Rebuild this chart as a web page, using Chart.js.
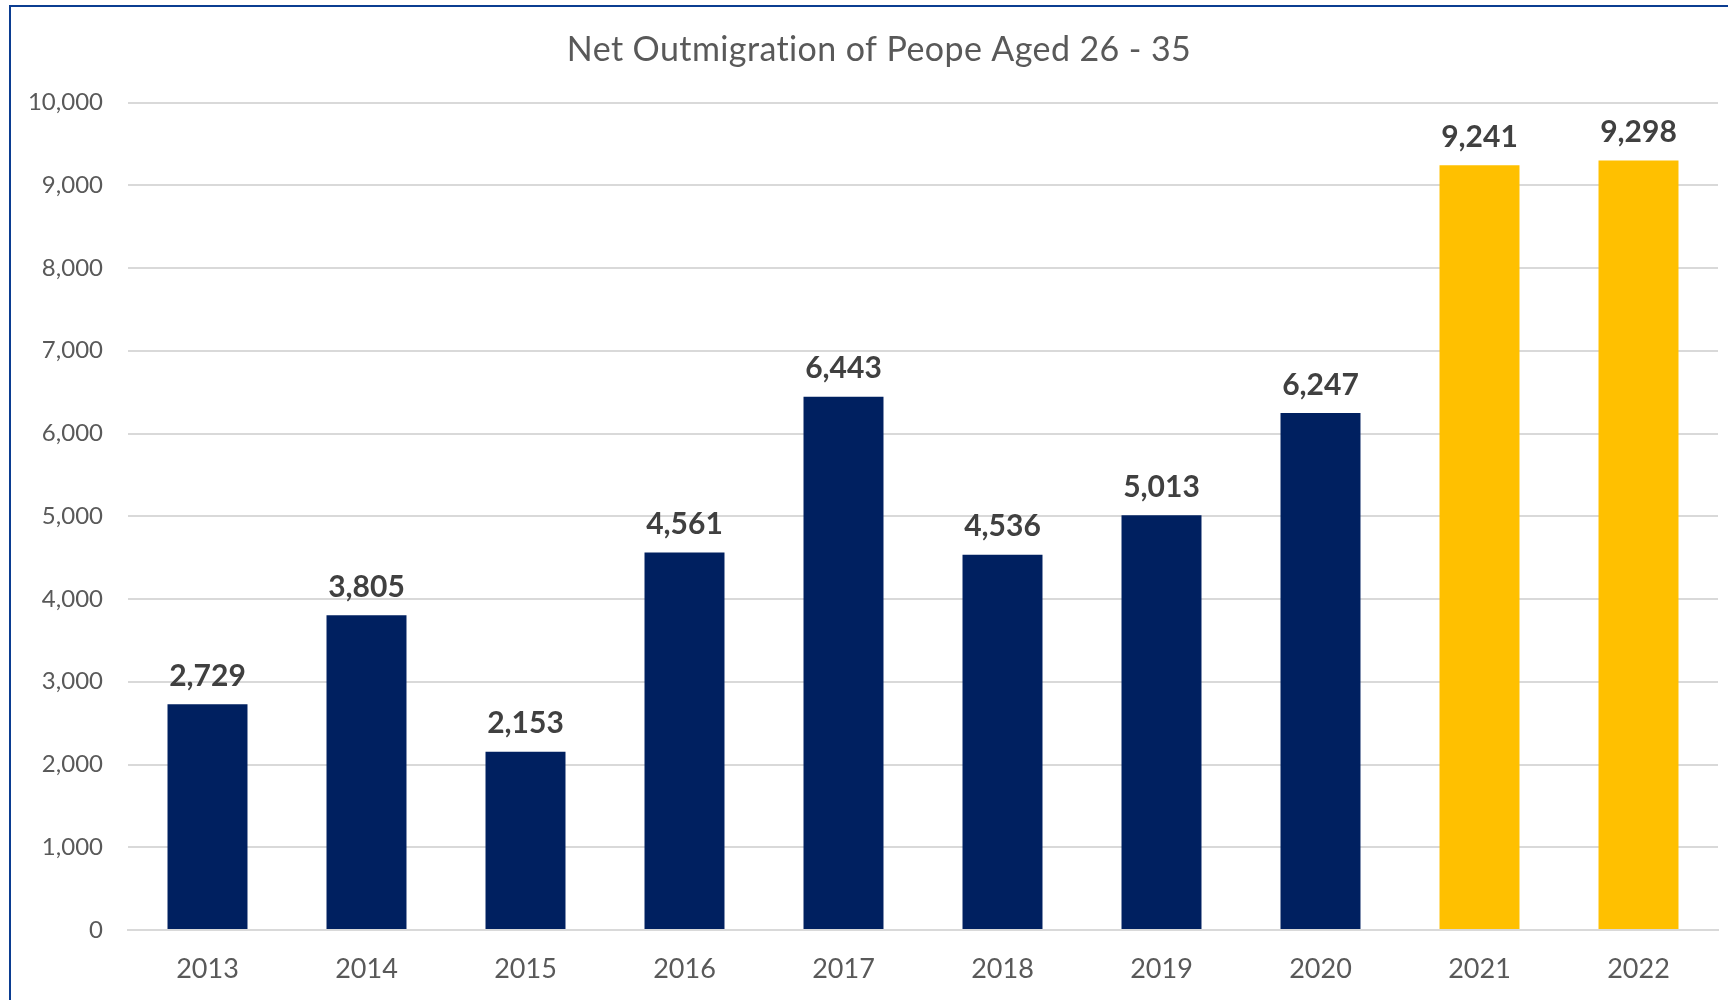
<!DOCTYPE html>
<html>
<head>
<meta charset="utf-8">
<script src="https://cdn.jsdelivr.net/npm/chart.js@4.4.0/dist/chart.umd.min.js"></script>
<style>
  html, body { margin: 0; padding: 0; background: #ffffff; overflow: hidden; }
  #wrap { position: relative; width: 1728px; height: 1000px; }
  #frame { position: absolute; left: 9px; top: 5px; width: 1800px; height: 1100px;
           border-left: 2.5px solid #0b3d91; border-top: 2.5px solid #0b3d91; box-sizing: border-box; pointer-events: none; }
  canvas { position: absolute; left: 0; top: 0; }
</style>
</head>
<body>
<div id="wrap">
  <canvas id="c" width="1728" height="1000"></canvas>
  <div id="frame"></div>
</div>
<script>
const chartTitle = 'Net Outmigration of Peope Aged 26 - 35';
const years = ['2013','2014','2015','2016','2017','2018','2019','2020','2021','2022'];
const outmigration = [2729, 3805, 2153, 4561, 6443, 4536, 5013, 6247, 9241, 9298];
const barColors = ['#002060','#002060','#002060','#002060','#002060','#002060','#002060','#002060','#FFC000','#FFC000'];
const yMin = 0, yMax = 10000, yStep = 1000;

const fmt = v => v.toLocaleString('en-US');

const valueLabels = {
  id: 'valueLabels',
  afterDatasetsDraw(chart) {
    const ctx = chart.ctx;
    const meta = chart.getDatasetMeta(0);
    ctx.save();
    ctx.font = 'bold 30px Lato';
    ctx.fillStyle = '#404040';
    ctx.textAlign = 'center';
    ctx.textBaseline = 'alphabetic';
    meta.data.forEach((bar, i) => {
      ctx.fillText(fmt(chart.data.datasets[0].data[i]), bar.x, bar.y - 18.5);
    });
    ctx.restore();
  }
};

const titleDraw = {
  id: 'titleDraw',
  afterDraw(chart) {
    const ctx = chart.ctx;
    ctx.save();
    ctx.font = '34px Lato';
    if ('letterSpacing' in ctx) ctx.letterSpacing = '0.4px';
    ctx.fillStyle = '#595959';
    ctx.textAlign = 'center';
    ctx.textBaseline = 'middle';
    ctx.fillText(chartTitle, 879, 50);
    ctx.restore();
  }
};

Chart.defaults.font.family = 'Lato';
new Chart(document.getElementById('c'), {
  type: 'bar',
  data: {
    labels: years,
    datasets: [{
      data: outmigration,
      backgroundColor: barColors,
      borderWidth: 0,
      categoryPercentage: 1.0,
      barPercentage: 0.503
    }]
  },
  options: {
    responsive: false,
    animation: false,
    layout: { padding: { left: 0, right: 10, top: 102.5, bottom: 0 } },
    plugins: {
      legend: { display: false },
      tooltip: { enabled: false },
      title: { display: false }
    },
    scales: {
      x: {
        grid: { display: false, drawTicks: false },
        border: { display: true, color: '#d9d9d9', width: 2 },
        ticks: { color: '#595959', font: { size: 27 }, padding: 23, maxRotation: 0 },
        afterFit(s) { s.height = 70; }
      },
      y: {
        min: yMin, max: yMax,
        grid: { color: '#d9d9d9', lineWidth: 2, drawTicks: false },
        border: { display: false },
        ticks: { stepSize: yStep, color: '#595959', font: { size: 24 }, padding: 25,
                 callback: v => fmt(v) },
        afterFit(s) { s.width = 128; }
      }
    }
  },
  plugins: [valueLabels, titleDraw]
});
</script>
</body>
</html>
